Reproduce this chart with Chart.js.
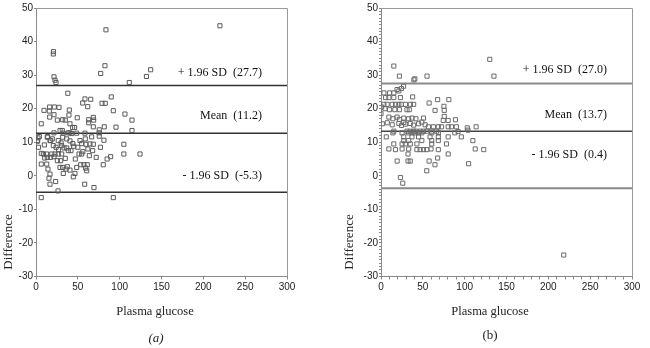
<!DOCTYPE html>
<html><head><meta charset="utf-8">
<script src="https://cdn.jsdelivr.net/npm/chart.js@4.4.0/dist/chart.umd.min.js"></script>
<style>
html,body{margin:0;padding:0;background:#fff;}
#wrap{position:relative;width:650px;height:348px;overflow:hidden;}
.pane{position:absolute;top:0;width:325px;height:348px;}
</style></head><body>
<div id="wrap">
  <div class="pane" style="left:0"><canvas id="ca" width="325" height="348"></canvas></div>
  <div class="pane" style="left:325px"><canvas id="cb" width="325" height="348"></canvas></div>
</div>
<script>
// ---- data: panel (a) ----
const xA = [20.7,20.9,83.6,21.5,22.7,23.9,77.3,82.4,111.5,132,137,219.8,
 38,90,58.5,65.4,55.8,61.8,78.9,82.8,92.4,106.3,114.7,114.7,9.6,15.9,21.9,27.5,16.3,39.8,39.4,21.5,25.5,31.9,35,16.4,6.3,40.6,43.8,46.2,49.3,63,63,68.5,68.9,68.5,81.6,75.6,75.6,75.6,95.6,
 28.7,31.4,32.6,38.6,40.6,42.7,48.6,21.5,58.5,66.5,81.2,4,2,14,16.7,20.7,31.9,36.7,40.6,26.6,30.7,33.5,36.7,52.6,54.6,58.9,59.7,64.5,68.5,105,
 8.8,12.6,18.8,22.7,26.6,30.7,38.6,41.8,51.4,54.6,63.7,67.7,89.2,105,124.3,
 1.6,2.4,13.5,19.5,17.5,80.4,
 6.3,10.4,13.5,17.5,21.5,6.3,12.8,14.3,16.7,15.5,16.7,
 25.5,29.5,28.7,31.9,35.8,37.4,40.6,32.6,44.6,46.6,48.6,53.4,57.3,61.3,59.4,60.6,23.5,58.2,69.3,26.3,6.3,92.4,
 24,30,45,50,27,44,47,35,56,62,72,77,85,3,10];
const yA = [36.3,37.0,43.5,29.5,28.5,27.8,30.5,32.8,27.8,29.6,31.6,44.7,
 24.6,23.5,22.9,22.8,21.7,20.6,21.6,21.6,19.4,18.4,16.6,13.5,19.5,19.3,20.5,20.4,20.5,19.6,18.1,18.2,16.6,16.7,16.6,17.5,15.5,15.5,14.4,14.4,17.3,16.7,15.8,17.4,16.6,14.6,14.6,13.7,12.8,11.8,14.5,
 13.5,13.5,12.7,12.8,12.8,12.6,12.7,12.8,12.7,11.6,10.6,11.7,10.5,11.7,10.5,9,11.5,11,10.4,10.5,9,8.3,8.3,10.5,9.6,11,9.4,9.5,9.4,9.4,
 6.5,6.5,6.5,6.5,6.5,6.5,7.5,7.5,6.5,6.5,6,7.5,5.7,6.5,6.5,
 10.3,11.3,11.5,11,10.5,3.3,
 6.7,5.3,5.5,5.5,5.7,3.5,3.5,2,0.5,-0.7,-2.5,
 4.5,4.5,2.5,2.5,2,2.7,1.7,0.7,-0.3,0.7,2.5,3.3,3.3,3.3,2.3,1.5,-1.7,-2.5,-3.5,-4.5,-6.5,-6.5,
 8.5,9.8,8.8,8.5,7.8,9.6,5,5.2,7.2,8,5.5,8.5,5,8.5,9.2];
const linesA = [26.9, 12.7, -4.9];
const labelsA = ['+ 1.96 SD  (27.7)', 'Mean  (11.2)', '- 1.96 SD  (-5.3)'];

// ---- data: panel (b) ----
const xB = [15.3,22,39.3,40.5,55,130,135,218.4,122.8,
 27,24.4,21.3,19.2,10.2,15.3,3.5,15.3,23.2,9.4,5.5,37.8,
 3.5,7.4,13.3,17.4,21.3,24.4,29.2,35.1,39,57.5,67.7,81.1,
 0.8,0,4.7,10.2,16.5,22,31,33.8,75.2,75.6,64.6,
 9.4,14.2,19.2,22,27.2,33,37,41.7,50.8,75.6,80.3,89,74.4,
 1.6,7.5,13.4,21.3,24.4,27.2,29.1,35,39,44.9,48.8,52.7,56.7,62.6,68.5,72.4,80.3,84.2,90.1,103.1,113.7,
 15.3,31.1,35,39,41.7,46.8,50.8,54.7,60.6,66.5,103.9,
 14.2,25.2,33.1,37,40.9,44.9,48.8,60.6,68.5,88.2,92.1,
 6.3,27.2,37,44.9,58.6,68.5,80.3,96,
 27.2,33.1,48.8,60.6,68.5,109.8,
 15.3,25.2,29.1,35,42.9,60.6,78.3,
 9.4,17.3,25.2,33.1,42.9,46.8,50.8,54.7,59.8,68.5,112.6,
 32.3,80.3,
 19.3,32.3,35,57.5,67.7,104.7,64.5,54.7,23.2,26];
const yB = [32.7,29.7,28.6,28.9,29.7,34.7,29.7,-23.6,7.8,
 26.7,26,25.3,25.7,24.7,24.7,24.7,23.3,23.3,23.3,23.3,23.5,
 21.3,21.3,21.3,21.3,21.3,21.3,21.3,21.3,21.3,21.7,22.7,22.7,
 20.5,18.5,20,19.7,19.7,19.7,19.7,19.7,20.7,19.5,19.5,
 17.5,17,17.5,16.8,17.2,17,17.2,17,17.2,17.7,16.5,16.7,16.5,
 15.5,15.8,15.2,15.6,15,15.9,15.4,15.6,15.1,15.5,16,15.2,14.6,14.6,14.6,14.6,14.6,14.6,14.6,14.3,14.6,
 13.3,13.3,13.3,13.3,13.3,13.3,13.3,13.3,13.3,13.3,13.6,
 12.8,12.8,12.8,12.8,12.8,12.8,12.8,12.8,12.8,12.8,13.2,
 11.6,11.6,11.6,11.6,11.6,11.6,11.6,11.6,
 10.5,10.5,10.5,10.5,10.5,10.5,
 9.5,9.5,9.5,9.5,9.5,9.5,9.5,
 8,7.8,8,8,7.8,7.8,7.8,7.8,8,7.8,8,
 6.5,6.5,
 4.4,4.4,4.4,4.4,5.3,3.6,3.3,1.5,-0.5,-2.2];
const linesB = [27.5, 13.3, -3.7];
const labelsB = ['+ 1.96 SD  (27.0)', 'Mean  (13.7)', '- 1.96 SD  (0.4)'];

const SERIF = '"Liberation Serif", "Times New Roman", serif';
const SANS = '"Liberation Sans", Arial, sans-serif';

function makePanel(id, xs, ys, lines, labels, cfg) {
  const pts = xs.map((x, i) => ({x: x, y: ys[i]}));
  const datasets = [{
    type: 'scatter', data: pts, pointStyle: 'rect', pointRadius: 2.9,
    pointBorderWidth: 1, pointBorderColor: cfg.pointColor, pointBackgroundColor: 'rgba(0,0,0,0)'
  }];
  lines.forEach((v, i) => datasets.push({
    type: 'line', data: [{x: 0, y: v}, {x: 300, y: v}], borderColor: cfg.lineColors[i],
    borderWidth: cfg.lineWidths[i], pointRadius: 0, fill: false
  }));
  const textPlugin = {
    id: 'txt',
    afterDraw(chart) {
      const {ctx, chartArea: a, scales: {x, y}} = chart;
      ctx.save();
      // plot frame (top/right)
      ctx.strokeStyle = '#9a9a9a'; ctx.lineWidth = 1;
      ctx.beginPath();
      ctx.moveTo(a.left, a.top + 0.5); ctx.lineTo(a.right + 0.5, a.top + 0.5); ctx.lineTo(a.right + 0.5, a.bottom);
      ctx.stroke();
      // limit labels
      ctx.fillStyle = '#111';
      ctx.font = '12px ' + SERIF;
      ctx.textAlign = 'right'; ctx.textBaseline = 'middle';
      labels.forEach((t, i) => ctx.fillText(t, x.getPixelForValue(270), y.getPixelForValue(cfg.labelY[i])));
      // y title
      ctx.save();
      ctx.translate(cfg.yTitleX, cfg.yTitleY); ctx.rotate(-Math.PI / 2);
      ctx.textAlign = 'center'; ctx.font = '13px ' + SERIF; ctx.fillStyle = '#222';
      ctx.fillText('Difference', 0, 0);
      ctx.restore();
      // x title
      ctx.textAlign = 'center'; ctx.font = '12.5px ' + SERIF; ctx.fillStyle = '#222';
      ctx.fillText('Plasma glucose', cfg.xTitleX, 312);
      // panel tag
      ctx.font = cfg.tagFont;
      ctx.fillText(cfg.tag, cfg.tagX, cfg.tagY);
      ctx.restore();
    }
  };
  return new Chart(document.getElementById(id), {
    data: {datasets},
    options: {
      responsive: false, animation: false,
      layout: {padding: {top: 8, right: cfg.padRight, left: 0, bottom: 0}},
      plugins: {legend: {display: false}, tooltip: {enabled: false}},
      scales: {
        x: {
          type: 'linear', min: 0, max: 300,
          ticks: {stepSize: cfg.xStep, autoSkip: false, maxRotation: 0, padding: 2, color: '#222',
            font: {family: SANS, size: 10},
            callback: v => (v % 50 === 0 ? String(v) : '')},
          grid: {drawOnChartArea: false, drawTicks: true, tickLength: 3, color: '#888'},
          border: {display: true, color: '#8a8a8a', width: 1},
          afterFit: s => { s.height = 71.5; }
        },
        y: {
          type: 'linear', min: -30, max: 50,
          ticks: {stepSize: cfg.yStep, autoSkip: false, padding: 1, color: '#222',
            font: {family: SANS, size: 10},
            callback: v => (v % 10 === 0 ? String(v) : '')},
          grid: {drawOnChartArea: false, drawTicks: true, tickLength: 2, color: '#888'},
          border: {display: true, color: '#8a8a8a', width: 1},
          afterFit: s => { s.width = cfg.yWidth; }
        }
      }
    },
    plugins: [textPlugin]
  });
}

makePanel('ca', xA, yA, linesA, labelsA, {
  pointColor: '#5a5a5a', lineColors: ['#333', '#333', '#333'], lineWidths: [1.5, 1.5, 1.5],
  labelY: [30.7, 17.9, -0.1], padRight: 38, yWidth: 36, xStep: 50, yStep: 10,
  yTitleX: 9, yTitleY: 242, xTitleX: 155, tag: '(a)', tagX: 156, tagY: 339, tagFont: 'italic 13px ' + SERIF
});
makePanel('cb', xB, yB, linesB, labelsB, {
  pointColor: '#6a6a6a', lineColors: ['#8a8a8a', '#444', '#8a8a8a'], lineWidths: [2.2, 1.5, 2.2],
  labelY: [31.7, 18.2, 6.2], padRight: 18, yWidth: 56, xStep: 10, yStep: 1,
  yTitleX: 25, yTitleY: 242, xTitleX: 165, tag: '(b)', tagX: 165, tagY: 336, tagFont: '13px ' + SERIF
});
</script>
</body></html>
